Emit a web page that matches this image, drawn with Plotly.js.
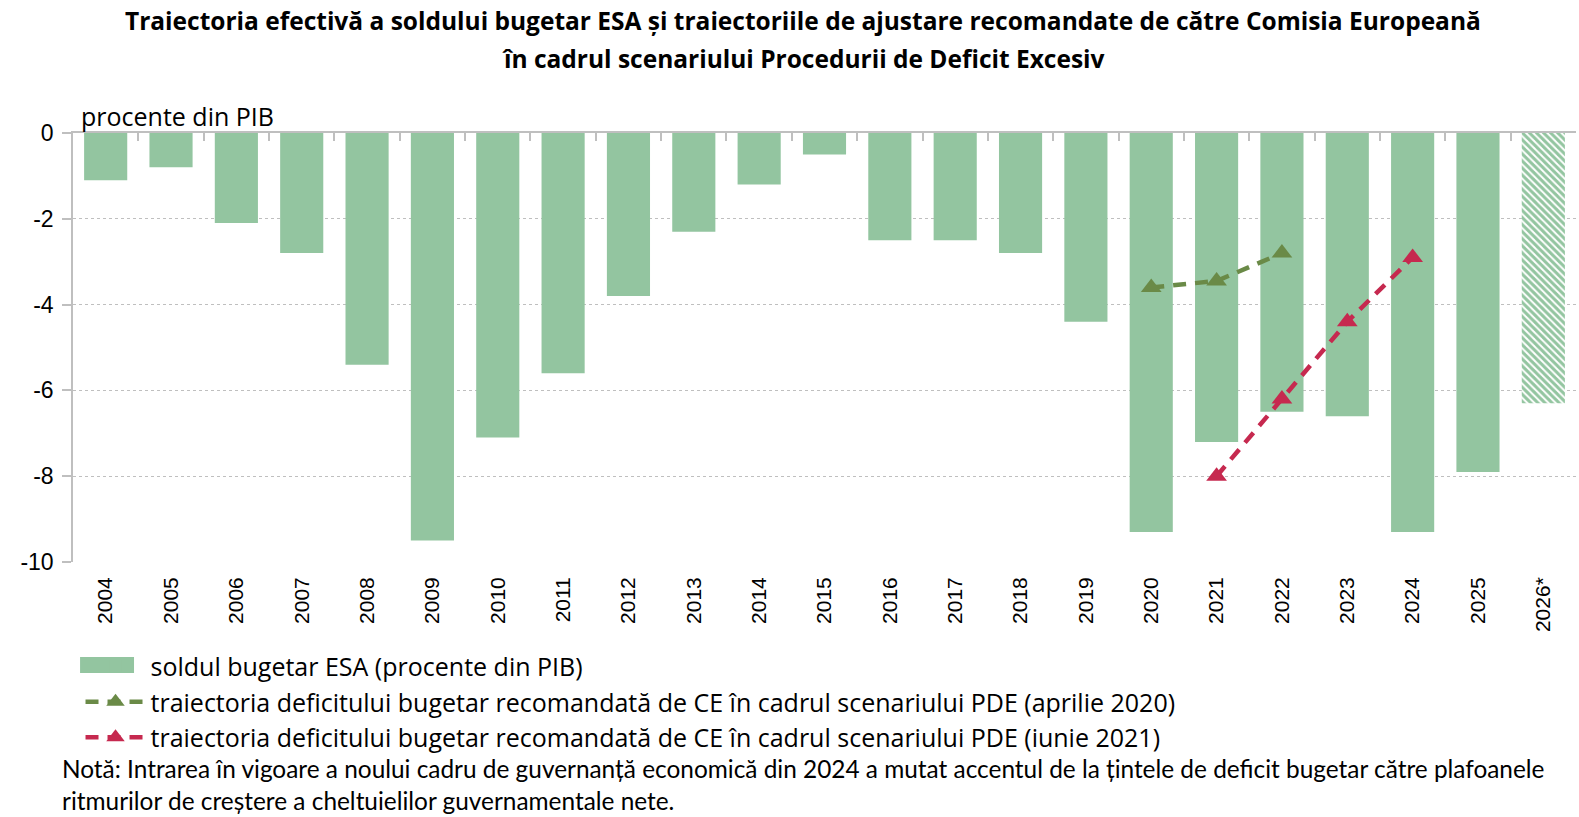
<!DOCTYPE html>
<html>
<head>
<meta charset="utf-8">
<script src="https://cdn.plot.ly/plotly-3.0.1.min.js"></script>
<style>
html,body{margin:0;padding:0;background:#fff;}
#chart{width:1579px;height:817px;}
</style>
</head>
<body>
<div id="chart"></div>
<script>
const years = ['2004','2005','2006','2007','2008','2009','2010','2011','2012','2013','2014','2015','2016','2017','2018','2019','2020','2021','2022','2023','2024','2025','2026*'];
const soldESA = [-1.1,-0.8,-2.1,-2.8,-5.4,-9.5,-7.1,-5.6,-3.8,-2.3,-1.2,-0.5,-2.5,-2.5,-2.8,-4.4,-9.3,-7.2,-6.5,-6.6,-9.3,-7.9,-6.3];
const hatched = [false,false,false,false,false,false,false,false,false,false,false,false,false,false,false,false,false,false,false,false,false,false,true];
const yearsApr2020 = ['2020','2021','2022'];
const pdeApr2020 = [-3.6,-3.45,-2.8];
const yearsIun2021 = ['2021','2022','2023','2024'];
const pdeIun2021 = [-8.0,-6.2,-4.4,-2.9];
const yTicks = [0,-2,-4,-6,-8,-10];

const names = [
  'soldul bugetar ESA (procente din PIB)',
  'traiectoria deficitului bugetar recomandată de CE în cadrul scenariului PDE (aprilie 2020)',
  'traiectoria deficitului bugetar recomandată de CE în cadrul scenariului PDE (iunie 2021)'
];
const titleLine1 = '<b>Traiectoria efectivă a soldului bugetar ESA și traiectoriile de ajustare recomandate de către Comisia Europeană</b>';
const titleLine2 = '<b>în cadrul scenariului Procedurii de Deficit Excesiv</b>';
const noteText = 'Notă: Intrarea în vigoare a noului cadru de guvernanță economică din 2024 a mutat accentul de la țintele de deficit bugetar către plafoanele<br>ritmurilor de creștere a cheltuielilor guvernamentale nete.';

const GREEN = '#93C5A0';
const TXT = '"Open Sans", Lato, sans-serif';
const NOTE = 'Lato, "Open Sans", sans-serif';
const NUM = '"Liberation Sans", Arial, sans-serif';

const traces = [
  {
    type:'bar', x: years, y: soldESA, name: names[0], legendgroup:'a',
    width: 0.66,
    marker:{
      color: GREEN,
      line:{width:0},
      pattern:{
        shape: hatched.map(h => h ? '\\' : ''),
        fgcolor: hatched.map(h => GREEN),
        bgcolor: hatched.map(h => h ? '#ffffff' : GREEN),
        size: 5, solidity: 0.6, fillmode:'replace'
      }
    },
    hoverinfo:'x+y'
  },
  {
    type:'scatter', mode:'lines+markers', x: yearsApr2020, y: pdeApr2020, name: names[1], legendgroup:'b',
    line:{color:'#6A8A47', width:4.5, dash:'13px,9px'},
    marker:{symbol:'triangle-up', size:18, color:'#6A8A47'}
  },
  {
    type:'scatter', mode:'lines+markers', x: yearsIun2021, y: pdeIun2021, name: names[2], legendgroup:'c',
    line:{color:'#C6294F', width:4.5, dash:'13px,9px'},
    marker:{symbol:'triangle-up', size:18, color:'#C6294F'}
  }
];

// invisible reference so the top category axis (ticks on the 0 line) is drawn
traces.push({type:'scatter', x: years, y: years.map(()=>null), xaxis:'x2', yaxis:'y', showlegend:false, hoverinfo:'skip', mode:'markers'});

const layout = {
  width:1579, height:817,
  margin:{l:73, r:3, t:133, b:255},
  paper_bgcolor:'#fff', plot_bgcolor:'#fff',
  showlegend:true,
  xaxis:{
    type:'category', categoryorder:'array', categoryarray: years,
    range:[-0.5, years.length-0.5],
    showline:false, ticks:'', showgrid:false, zeroline:false,
    tickangle:-90, ticklabelstandoff:10,
    tickfont:{family:NUM, size:21, color:'#000'}
  },
  xaxis2:{
    type:'category', categoryorder:'array', categoryarray: years,
    range:[-0.5, years.length-0.5],
    overlaying:'x', side:'top', anchor:'y',
    showline:true, linecolor:'#BFBFBF', linewidth:1.5,
    ticks:'inside', tickson:'boundaries', ticklen:8, tickcolor:'#BFBFBF', tickwidth:1.5,
    showticklabels:false, showgrid:false, zeroline:false
  },
  yaxis:{
    range:[-10, 0], tickvals: yTicks, ticktext: yTicks.map(String),
    showline:true, linecolor:'#BFBFBF', linewidth:1.5,
    ticks:'outside', ticklen:9, tickcolor:'#BFBFBF', tickwidth:1.5,
    showgrid:true, gridcolor:'#BFBFBF', griddash:'dot', gridwidth:1,
    zeroline:false,
    ticklabelstandoff:4,
    tickfont:{family:NUM, size:23, color:'#000'}
  },
  legend:{
    x:0.005, xanchor:'left', y:-0.19, yanchor:'top',
    orientation:'v', traceorder:'normal',
    tracegroupgap:9,
    font:{family:TXT, size:25, color:'#000'},
    itemwidth:60, bgcolor:'rgba(0,0,0,0)'
  },
  shapes:[
    // wide legend key for the bar series (Excel-style)
    {type:'rect', xref:'paper', yref:'paper', x0:0.0047, x1:0.0406, y0:-0.2214, y1:-0.2587,
     fillcolor:GREEN, line:{width:0}, layer:'above'}
  ],
  annotations:[
    {text: titleLine1, xref:'paper', yref:'paper', x:0.486, y:1.2634, xanchor:'center', yanchor:'middle',
     showarrow:false, font:{family:TXT, size:24.5, color:'#000'}},
    {text: titleLine2, xref:'paper', yref:'paper', x:0.486, y:1.1739, xanchor:'center', yanchor:'middle',
     showarrow:false, font:{family:TXT, size:24.5, color:'#000'}},
    {text:'procente din PIB', xref:'paper', yref:'paper', x:0.004, y:0.995, xanchor:'left', yanchor:'bottom',
     showarrow:false, font:{family:TXT, size:25, color:'#000'}},
    {text: noteText, xref:'paper', yref:'paper', x:-0.008, y:-0.445, xanchor:'left', yanchor:'top', align:'left',
     borderpad:0, showarrow:false, font:{family:NOTE, size:24.4, color:'#000'}}
  ]
};

Plotly.newPlot('chart', traces, layout, {displayModeBar:false, responsive:false});
</script>
</body>
</html>
